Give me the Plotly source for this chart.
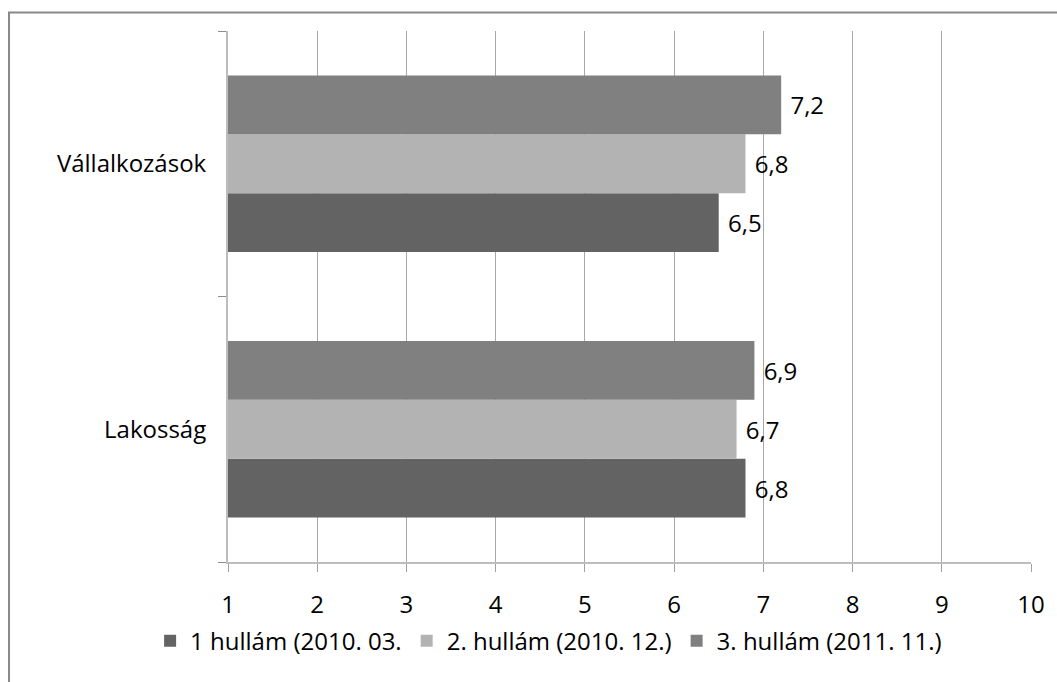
import plotly.graph_objects as go

# Survey scores by segment and wave
categories = ["Lakosság", "Vállalkozások"]
series_names = [
    "1 hullám (2010. 03.",
    "2. hullám (2010. 12.)",
    "3. hullám (2011. 11.)",
]
wave1 = [6.8, 6.5]
wave2 = [6.7, 6.8]
wave3 = [6.9, 7.2]
x_ticks = [1, 2, 3, 4, 5, 6, 7, 8, 9, 10]

colors = ["#636363", "#b3b3b3", "#808080"]
FONT = "Open Sans"


def fmt(v):
    return "\u00a0" + f"{v:.1f}".replace(".", ",")


fig = go.Figure()
for name, vals, col in zip(series_names, [wave1, wave2, wave3], colors):
    fig.add_trace(go.Bar(
        y=categories,
        x=vals,
        base=0,
        name=name,
        orientation="h",
        marker=dict(color=col, line=dict(width=0)),
        text=[fmt(v) for v in vals],
        textposition="outside",
        textfont=dict(family=FONT, size=24, color="#000000"),
        cliponaxis=False,
    ))

fig.update_layout(
    width=1057,
    height=682,
    margin=dict(l=228, r=24, t=31, b=120),
    paper_bgcolor="white",
    plot_bgcolor="white",
    barmode="group",
    bargap=0.335,
    bargroupgap=0,
    font=dict(family=FONT, size=24, color="#000000"),
    showlegend=True,
    legend=dict(
        orientation="h",
        x=-0.097,
        xanchor="left",
        y=-0.149,
        yanchor="middle",
        font=dict(family=FONT, size=24, color="#000000"),
        itemwidth=30,
        tracegroupgap=0,
        bgcolor="rgba(0,0,0,0)",
    ),
    xaxis=dict(
        range=[1, 10],
        tickvals=x_ticks,
        ticktext=[str(t) for t in x_ticks],
        showgrid=True,
        gridcolor="#a8a8a8",
        gridwidth=1,
        zeroline=False,
        showline=True,
        linecolor="#bdbdbd",
        linewidth=2,
        ticks="outside",
        ticklen=8,
        tickcolor="#a0a0a0",
        tickwidth=1,
        ticklabelstandoff=12,
        tickfont=dict(family=FONT, size=24, color="#000000"),
    ),
    yaxis=dict(
        type="category",
        categoryorder="array",
        categoryarray=categories,
        showgrid=False,
        zeroline=False,
        showline=True,
        linecolor="#bdbdbd",
        linewidth=2,
        ticks="outside",
        tickson="boundaries",
        ticklen=8,
        tickcolor="#8c8c8c",
        tickwidth=1,
        ticklabelstandoff=15,
        tickfont=dict(family=FONT, size=24, color="#000000"),
    ),
    shapes=[
        dict(
            type="rect",
            xref="paper", yref="paper",
            x0=-0.2727, x1=1.2,
            y0=-0.4, y1=1.0348,
            line=dict(color="#888888", width=2),
            fillcolor="rgba(0,0,0,0)",
            layer="above",
        )
    ],
)

fig.write_html("out.html")
